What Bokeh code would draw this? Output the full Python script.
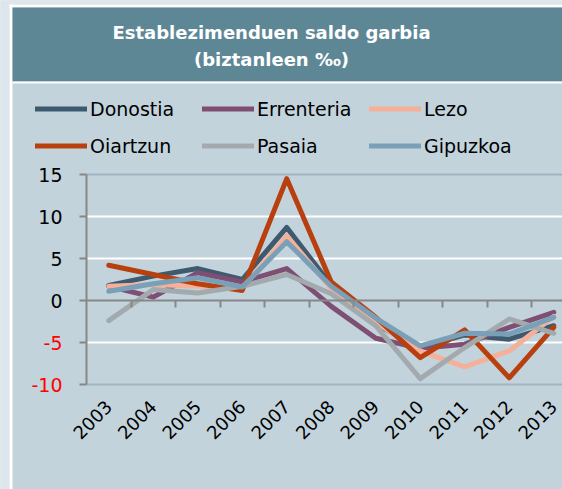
import math
from bokeh.plotting import figure
from bokeh.models import Label, FixedTicker, LinearAxis, BoxAnnotation
from bokeh.embed import file_html
from bokeh.resources import INLINE

# ---------------- data ----------------
years = [2003, 2004, 2005, 2006, 2007, 2008, 2009, 2010, 2011, 2012, 2013]
donostia   = [1.8, 2.9, 3.8, 2.5, 8.7, 1.8, -2.8, -5.6, -4.1, -4.6, -3.0]
errenteria = [1.7, 0.4, 3.3, 2.2, 3.8, -0.7, -4.5, -5.7, -5.2, -3.2, -1.4]
lezo       = [1.7, 1.9, 1.7, 1.5, 7.7, 1.4, -2.6, -6.0, -7.9, -6.0, -1.9]
oiartzun   = [4.2, 3.1, 2.0, 1.2, 14.5, 2.2, -2.0, -6.8, -3.5, -9.2, -3.2]
pasaia     = [-2.4, 1.3, 0.9, 1.7, 3.1, 0.8, -3.0, -9.3, -5.6, -2.2, -3.9]
gipuzkoa   = [1.1, 2.0, 2.7, 1.6, 7.0, 1.7, -2.1, -5.4, -3.9, -4.0, -2.0]

series_names = ["Donostia", "Errenteria", "Lezo", "Oiartzun", "Pasaia", "Gipuzkoa"]
series_values = [donostia, errenteria, lezo, oiartzun, pasaia, gipuzkoa]
series_colors = ["#3d5a6e", "#7e4f73", "#f5b09a", "#b8400f", "#a3aaae", "#79a0b8"]

y_ticks = [-10, -5, 0, 5, 10, 15]
grid_ticks = [-5, 5, 10]
title_lines = ["Establezimenduen saldo garbia", "(biztanleen \u2030)"]

# ---------------- style / layout ----------------
PANEL = "#c2d3dc"
HEADER = "#5e8796"
OUTER = "#dde6ec"
AXIS = "#878787"
BORDER = "#a0b5c1"
FONT = "DejaVu Sans"
W, H = 562, 489

# pixel geometry of the plot area
PX_PER_YEAR = 44.5
FIRST_YEAR_PX = 108.25
PX_PER_UNIT = 8.4
TOP_TICK_PX = 174.0


def xd(px):
    return years[0] + (px - FIRST_YEAR_PX) / PX_PER_YEAR


def yd(py):
    return y_ticks[-1] + (TOP_TICK_PX - py) / PX_PER_UNIT


x_axis_start = years[0] - 0.5
x_end = xd(W)

p = figure(width=W, height=H,
           x_range=(xd(0), x_end), y_range=(yd(H), yd(0)),
           output_backend="svg", toolbar_location=None,
           x_axis_location=None, y_axis_location=None,
           min_border_left=0, min_border_right=0, min_border_top=0,
           min_border_bottom=0)
p.background_fill_color = PANEL
p.border_fill_color = PANEL
p.outline_line_color = None
p.grid.visible = False

# frame decorations (drawn beneath everything)
p.add_layout(BoxAnnotation(right=xd(9), fill_color=OUTER, fill_alpha=1,
                           line_color=None, level="image"))
p.add_layout(BoxAnnotation(bottom=yd(4), fill_color=OUTER, fill_alpha=1,
                           line_color=None, level="image"))
p.add_layout(BoxAnnotation(left=xd(9), right=xd(12), top=yd(4), fill_color="white",
                           fill_alpha=1, line_color=None, level="image"))
p.add_layout(BoxAnnotation(left=xd(9), top=yd(4), bottom=yd(7), fill_color="white",
                           fill_alpha=1, line_color=None, level="image"))
p.add_layout(BoxAnnotation(left=xd(12), top=yd(7), bottom=yd(81), fill_color=HEADER,
                           fill_alpha=1, line_color=None, level="image"))
p.add_layout(BoxAnnotation(left=xd(12), top=yd(81), bottom=yd(83), fill_color="white",
                           fill_alpha=1, line_color=None, level="image"))

for txt, py in zip(title_lines, [31.5, 59.0]):
    p.add_layout(Label(x=xd(271), y=yd(py), text=txt, text_align="center",
                       text_baseline="middle", text_color="white",
                       text_font=FONT, text_font_style="bold",
                       text_font_size="18px"))

# horizontal gridlines (white) and plot-area top/bottom borders
n = len(grid_ticks)
p.segment(x0=[x_axis_start] * n, y0=grid_ticks, x1=[x_end] * n, y1=grid_ticks,
          line_color="white", line_width=2)
edges = [y_ticks[-1], y_ticks[0]]
p.segment(x0=[x_axis_start] * 2, y0=edges, x1=[x_end] * 2, y1=edges,
          line_color=BORDER, line_width=2)

# y axis
yax = LinearAxis(fixed_location=x_axis_start, ticker=FixedTicker(ticks=y_ticks),
                 bounds=(y_ticks[0], y_ticks[-1]),
                 axis_line_color=AXIS, axis_line_width=2,
                 major_tick_line_color=AXIS, major_tick_line_width=2,
                 major_tick_out=7, major_tick_in=0, minor_tick_line_color=None,
                 major_label_standoff=17, major_label_text_font=FONT,
                 major_label_text_font_size="19px", major_label_text_color="black",
                 major_label_overrides={t: "" for t in y_ticks if t < 0})
p.add_layout(yax, "left")
for t in y_ticks:
    if t < 0:
        p.add_layout(Label(x=x_axis_start, y=t, x_offset=-24, text=str(t),
                           text_align="right", text_baseline="middle",
                           text_color="#ff0000", text_font=FONT,
                           text_font_size="19px"))

# x axis labels at bottom of plot area
xax = LinearAxis(fixed_location=y_ticks[0], ticker=FixedTicker(ticks=years),
                 axis_line_color=None, major_tick_line_color=None,
                 minor_tick_line_color=None,
                 major_label_orientation=math.pi / 4, major_label_standoff=13,
                 major_label_text_font=FONT, major_label_text_font_size="18px",
                 major_label_text_color="black")
p.add_layout(xax, "below")

# x axis line crossing at zero with ticks between categories
zero_axis = LinearAxis(fixed_location=0, bounds=(x_axis_start, x_end),
                       ticker=FixedTicker(ticks=[y + 0.5 for y in years[:-1]]),
                       axis_line_color=AXIS, axis_line_width=2,
                       major_tick_line_color=AXIS, major_tick_line_width=2,
                       major_tick_out=7, major_tick_in=0,
                       minor_tick_line_color=None,
                       major_label_text_alpha=0, major_label_text_font_size="1px")
p.add_layout(zero_axis, "below")

for name, vals, col in zip(series_names, series_values, series_colors):
    p.line(years, vals, line_color=col, line_width=5, legend_label=name,
           line_join="round", line_cap="round")

leg = p.legend[0]
leg.location = (35, 325)
leg.orientation = "horizontal"
leg.ncols = 3
leg.glyph_width = 52
leg.glyph_height = 37
leg.label_height = 37
leg.label_width = 112
leg.label_standoff = 3
leg.spacing = 0
leg.padding = 0
leg.margin = 0
leg.background_fill_alpha = 0
leg.border_line_alpha = 0
leg.label_text_font = FONT
leg.label_text_font_size = "19px"
leg.label_text_color = "black"

html = file_html(p, INLINE)
open("out.html", "w").write(html)
